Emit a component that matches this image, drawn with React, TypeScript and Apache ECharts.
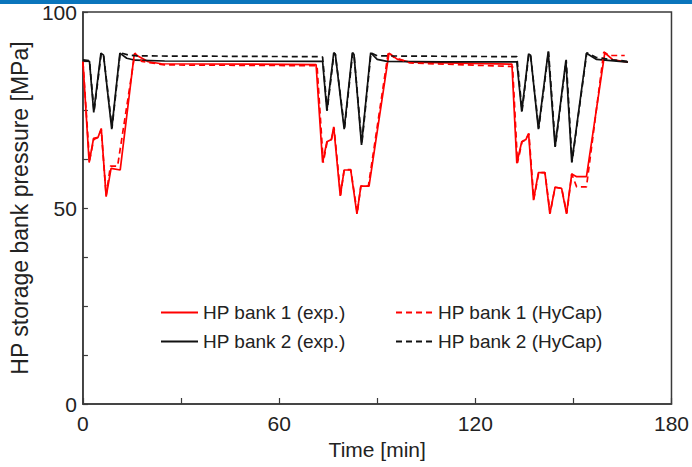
import React, { useEffect, useRef } from "react";
import * as echarts from "echarts";

// HP bank 1 (exp.) — red solid
const bank1ExpT = [0, 1.9, 3.25, 4.6, 5.6, 7.1, 8.6, 11.4, 15.7, 20, 24, 71.3, 73.3, 74.6, 76.0, 76.7, 78.7, 79.9, 81.9, 83.8, 85.0, 87.5, 93.6, 96.2, 100, 131.2, 132.7, 134.2, 135.5, 136.3, 137.8, 139.3, 141.3, 142.8, 144.4, 146.4, 147.9, 149.5, 151.0, 154.0, 159.6, 162.1, 166.7];
const bank1ExpP = [87.3, 61.6, 67.8, 68.0, 70.3, 52.9, 60.1, 59.7, 89.3, 87.3, 86.8, 86.6, 61.6, 66.9, 67.5, 70.7, 53.1, 59.7, 59.7, 48.5, 55.6, 55.6, 89.5, 87.9, 87.2, 86.7, 61.4, 66.9, 67.5, 69.0, 52.0, 59.0, 59.0, 48.5, 55.3, 55.0, 48.5, 58.7, 58.0, 58.0, 89.6, 87.8, 87.2];

// HP bank 1 (HyCap) — red dashed
const bank1SimT = [0, 2.0, 3.3, 4.6, 5.6, 7.1, 8.4, 10.6, 15.9, 18, 25, 71.6, 73.5, 74.7, 76.0, 76.8, 78.8, 79.9, 81.9, 83.9, 85.0, 87.3, 93.4, 95, 100, 131.4, 132.9, 134.3, 135.5, 136.4, 137.9, 139.4, 141.3, 142.9, 144.4, 146.4, 148.0, 149.5, 151.0, 154.0, 159.3, 161, 165.7];
const bank1SimP = [87.3, 62.0, 67.5, 68.0, 70.0, 53.2, 60.7, 60.7, 89.5, 87.4, 86.5, 86.3, 61.6, 66.9, 67.5, 70.5, 53.3, 59.8, 59.8, 48.7, 55.6, 55.6, 89.8, 88.5, 87.0, 86.1, 61.5, 66.9, 67.5, 69.0, 52.2, 59.0, 59.0, 48.7, 55.3, 55.0, 48.7, 58.7, 55.4, 55.4, 89.8, 88.9, 88.9];

// HP bank 2 (exp.) — black solid
const bank2ExpT = [0, 2.0, 3.3, 5.5, 6.3, 8.8, 11.3, 13.4, 16, 25, 72.5, 73.3, 74.6, 76.7, 77.2, 79.9, 82.4, 82.9, 85.2, 88.0, 90.0, 93, 110, 132.7, 134.2, 136.3, 136.9, 139.3, 142.3, 144.4, 147.7, 149.5, 154.0, 157.1, 166.7];
const bank2ExpP = [87.6, 87.4, 74.4, 89.5, 89.0, 70.1, 89.5, 88.2, 87.7, 87.5, 87.4, 87.4, 74.8, 89.6, 89.2, 70.1, 89.6, 89.2, 66.1, 89.6, 87.9, 87.4, 87.3, 87.3, 74.6, 89.3, 89.0, 70.1, 89.9, 65.6, 87.6, 61.6, 89.5, 87.9, 87.2];

// HP bank 2 (HyCap) — black dashed
const bank2SimT = [0, 2.0, 3.4, 5.6, 6.3, 8.9, 11.4, 14, 17, 72.5, 73.3, 74.7, 76.8, 77.2, 80.0, 82.5, 82.9, 85.3, 88.1, 90, 132.7, 134.3, 136.4, 136.9, 139.4, 142.4, 144.5, 147.8, 149.6, 154.1, 157, 162, 166.7];
const bank2SimP = [87.8, 87.6, 74.6, 89.4, 89.0, 70.4, 89.6, 89.0, 88.8, 88.6, 88.5, 74.9, 89.6, 89.2, 70.3, 89.6, 89.2, 66.3, 89.6, 88.8, 88.6, 74.8, 89.3, 89.0, 70.3, 89.9, 65.8, 87.8, 61.8, 89.6, 88.4, 87.8, 87.4];

const xTicks = [0, 60, 120, 180];
const yTicks = [0, 50, 100];

const seriesNames = [
  "HP bank 1 (exp.)",
  "HP bank 1 (HyCap)",
  "HP bank 2 (exp.)",
  "HP bank 2 (HyCap)",
];

const zip = (t: number[], p: number[]) => t.map((v, i) => [v, p[i]]);

const FONT = "'Liberation Sans', Arial, Helvetica, sans-serif";
const RED = "#ff0000";
const BLACK = "#111111";
const AXIS = "#3a3a3a";

export default function App() {
  const ref = useRef<HTMLDivElement>(null);
  useEffect(() => {
    if (!ref.current) return;
    const chart = echarts.init(ref.current, undefined, { renderer: "svg" });
    const lineSeries = (name: string, data: number[][], color: string, dashed: boolean) => ({
      name,
      type: "line",
      data,
      showSymbol: false,
      symbol: "none",
      smooth: false,
      lineStyle: { color, width: 1.7, type: dashed ? [6, 4] : "solid" },
      itemStyle: { color },
      z: dashed ? 3 : 2,
    });
    const legendBase = {
      top: 298,
      orient: "vertical",
      itemWidth: 37,
      itemHeight: 14,
      itemGap: 10,
      itemStyle: { opacity: 0 },
      textStyle: { fontFamily: FONT, fontSize: 19, color: "#222", lineHeight: 19 },
    };
    chart.setOption({
      animation: false,
      backgroundColor: "#ffffff",
      graphic: [
        { type: "rect", left: 0, top: 0, shape: { width: 692, height: 4 }, style: { fill: "#0a75bc" } },
      ],
      grid: {
        left: 81,
        right: 20,
        top: 12,
        bottom: 63,
        show: true,
        borderColor: AXIS,
        borderWidth: 1.5,
        backgroundColor: "transparent",
      },
      legend: [
        { ...legendBase, left: 155, data: [seriesNames[0], seriesNames[2]] },
        { ...legendBase, left: 390, data: [seriesNames[1], seriesNames[3]] },
      ],
      xAxis: {
        type: "value",
        min: 0,
        max: 180,
        interval: 30,
        name: "Time [min]",
        nameLocation: "middle",
        nameGap: 34,
        nameTextStyle: { fontFamily: FONT, fontSize: 21, color: "#222" },
        axisLine: { show: true, lineStyle: { color: AXIS, width: 1.5 } },
        axisTick: { show: true, inside: true, length: 6, lineStyle: { color: AXIS, width: 1.2 } },
        axisLabel: {
          fontFamily: FONT,
          fontSize: 21,
          color: "#222",
          margin: 9,
          formatter: (v: number) => (xTicks.includes(v) ? String(v) : ""),
        },
        splitLine: { show: false },
      },
      yAxis: {
        type: "value",
        min: 0,
        max: 100,
        interval: 12.5,
        name: "HP storage bank pressure [MPa]",
        nameLocation: "middle",
        nameGap: 46,
        nameTextStyle: { fontFamily: FONT, fontSize: 23, color: "#222" },
        axisLine: { show: true, lineStyle: { color: AXIS, width: 1.5 } },
        axisTick: { show: true, inside: true, length: 5, lineStyle: { color: AXIS, width: 1.2 } },
        axisLabel: {
          fontFamily: FONT,
          fontSize: 21,
          color: "#222",
          margin: 6,
          formatter: (v: number) => (yTicks.includes(v) ? String(v) : ""),
        },
        splitLine: { show: false },
      },
      series: [
        lineSeries(seriesNames[0], zip(bank1ExpT, bank1ExpP), RED, false),
        lineSeries(seriesNames[1], zip(bank1SimT, bank1SimP), RED, true),
        lineSeries(seriesNames[2], zip(bank2ExpT, bank2ExpP), BLACK, false),
        lineSeries(seriesNames[3], zip(bank2SimT, bank2SimP), BLACK, true),
      ],
    });
    return () => chart.dispose();
  }, []);
  return (
    <div
      ref={ref}
      style={{ position: "absolute", left: 0, top: 0, width: 692, height: 467 }}
    />
  );
}
